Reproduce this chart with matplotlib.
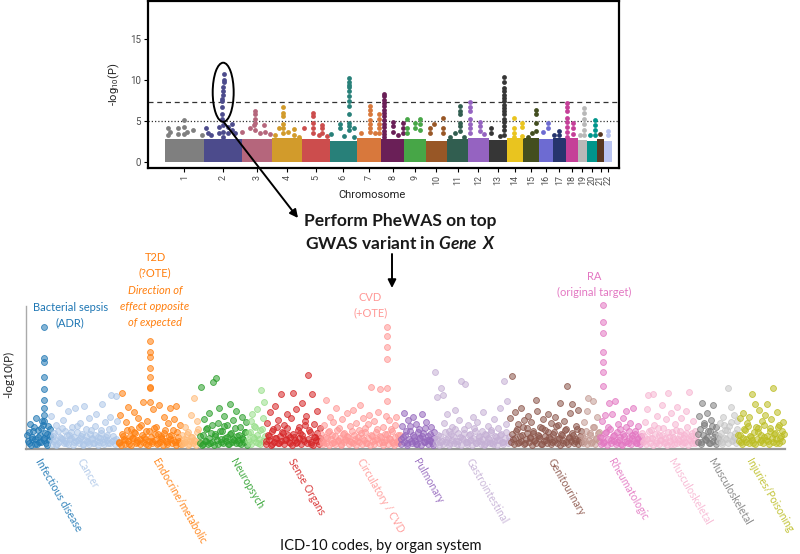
import numpy as np
import matplotlib.pyplot as plt
from matplotlib.patches import Ellipse, FancyArrowPatch
from matplotlib.colors import to_rgba

plt.rcParams['font.family'] = ['Lato', 'DejaVu Sans']
plt.rcParams['mathtext.fontset'] = 'custom'
plt.rcParams['mathtext.rm'] = 'Roboto'
plt.rcParams['mathtext.bfit'] = 'Lato:italic:bold'

# ───────────────────────── GWAS (Manhattan) data ─────────────────────────
chroms      = [str(i) for i in range(1, 23)]
chrom_len   = [249, 243, 198, 191, 181, 171, 159, 146, 141, 136, 135,
               134, 115, 107, 102, 90, 81, 78, 59, 63, 48, 51]          # Mb
chrom_floor = [2.8, 2.8, 2.8, 2.9, 2.8, 2.6, 2.9, 2.8, 2.8, 2.6, 2.8,
               2.9, 2.7, 2.9, 2.9, 2.8, 2.9, 2.9, 2.7, 2.6, 2.8, 2.6]    # dense sub-threshold SNPs
chrom_colors = ['#7f7f7f', '#4c4b8c', '#b5667c', '#d29b2b', '#cc4d4d', '#288079',
                '#d8783c', '#6a1f57', '#47a647', '#985726', '#315e50', '#9563c1',
                '#363636', '#e9c41f', '#434e1f', '#6d6bd2', '#26346e', '#c53f98',
                '#b8b8b8', '#00958b', '#583822', '#b9c4f1']
gwas_line, sugg_line = 7.3, 5.0

# SNPs above the dense block, position within chromosome (Mb) and -log10(P)
hit_pos = [
    [21, 21, 32, 86, 86, 119, 119, 119, 144, 182, 236],
    [15, 24, 48, 95, 101, 131, 127, 131, 123, 123, 123, 120, 120, 120, 120, 120, 123, 123, 123,
     155, 155, 180, 180, 202],
    [2, 55, 81, 88, 88, 88, 88, 88, 116, 146, 152, 184],
    [18, 40, 72, 72, 72, 72, 72, 72, 104, 137, 137, 169],
    [10, 68, 68, 68, 68, 68, 107, 128, 128, 128, 160],
    [3, 61, 61, 87, 119, 119, 119, 119, 119, 119, 119, 119, 119, 119, 119, 119, 151, 155],
    [29, 83, 83, 83, 83, 83, 83, 83, 115, 145, 145, 145, 145, 145],
    [20, 20, 20, 20, 20, 20, 20, 20, 20, 20, 20, 20, 20, 20, 78, 78, 78, 106, 138, 138, 138],
    [18, 18, 18, 72, 72, 100, 104, 104],
    [28, 28, 50, 110, 110, 110],
    [16, 48, 81, 81, 81, 81, 81, 81, 111],
    [14, 14, 14, 14, 14, 14, 14, 75, 75, 75, 100],
    [13, 13, 69, 99, 99, 99, 99, 99, 99, 99, 99, 99, 99, 99, 99, 99, 99, 99, 99],
    [49, 49, 49, 49, 100, 100, 100],
    [27, 55, 81, 81, 81, 81],
    [24, 54, 54],
    [8, 40, 40],
    [6, 6, 6, 6, 6, 6, 6, 6, 46, 46, 46],
    [11, 41, 41, 41, 41, 41, 41],
    [21, 49, 49, 49, 49],
    [18],
    [22, 22],
]
hit_logp = [
    [4.2, 3.3, 3.7, 4.2, 3.4, 5.1, 4.3, 3.4, 3.7, 3.9, 3.3],
    [4.2, 3.5, 3.3, 4.3, 3.5, 10.7, 10.0, 9.7, 9.1, 8.6, 8.2, 7.7, 7.4, 6.7, 5.8, 5.2, 4.5, 3.7, 3.1,
     4.3, 3.6, 4.7, 3.9, 3.5],
    [3.7, 4.2, 4.5, 6.2, 5.8, 5.3, 4.8, 3.9, 3.5, 4.5, 3.7, 3.4],
    [3.3, 4.1, 6.7, 6.0, 5.6, 4.7, 4.1, 3.5, 3.7, 4.0, 3.3, 3.1],
    [4.2, 6.0, 5.6, 4.8, 4.1, 3.6, 3.3, 4.5, 4.1, 3.6, 3.2],
    [3.4, 4.7, 4.1, 3.2, 10.2, 9.8, 9.4, 9.1, 8.7, 8.0, 7.4, 6.8, 5.8, 4.8, 4.4, 3.9, 4.1, 3.1],
    [3.5, 6.8, 6.4, 5.8, 5.1, 4.7, 4.1, 3.7, 3.5, 5.8, 5.3, 4.7, 4.1, 3.6],
    [8.3, 8.0, 7.6, 7.2, 6.8, 6.4, 6.0, 5.6, 5.1, 4.7, 4.3, 3.8, 3.4, 3.0, 4.9, 4.4, 3.7, 3.3,
     4.8, 4.1, 3.6],
    [5.3, 4.1, 3.6, 4.8, 4.1, 5.2, 4.7, 3.9],
    [4.1, 3.5, 4.7, 5.4, 4.1, 3.6],
    [3.1, 3.6, 6.8, 6.2, 5.8, 4.8, 4.4, 3.8, 3.0],
    [7.3, 6.7, 6.2, 5.3, 4.7, 4.1, 3.5, 4.9, 4.4, 3.8, 3.4],
    [4.1, 3.5, 3.2, 10.4, 9.7, 9.0, 8.6, 8.2, 7.8, 7.4, 7.0, 6.6, 6.2, 5.8, 5.3, 4.9, 4.4, 3.9, 3.3],
    [5.4, 4.1, 3.6, 3.1, 4.8, 4.3, 3.2],
    [3.1, 3.6, 6.3, 5.8, 4.8, 3.8],
    [3.7, 4.8, 4.2],
    [3.3, 3.8, 3.3],
    [7.2, 6.7, 6.2, 5.4, 4.9, 4.3, 3.7, 3.1, 4.8, 4.1, 3.4],
    [3.3, 6.6, 6.0, 5.3, 4.7, 3.9, 3.3],
    [3.3, 5.1, 4.5, 3.9, 3.3],
    [3.4],
    [3.8, 3.3],
]
top_variant = (2, 125, 8.5)          # chromosome, Mb, centre of circled peak

# ───────────────────────────── PheWAS data ────────────────────────────────
cat_labels = ['Infectious disease', 'Cancer', 'Endocrine/metabolic', '', 'Neuropsych', '',
              'Sense Organs', 'Circulatory / CVD', 'Pulmonary', 'Gastrointestinal',
              'Genitourinary', '', 'Rheumatologic', 'Musculoskeletal', 'Musculoskeletal', '',
              'Injuries/Poisoning']
cat_colors = ['#1f77b4', '#aec7e8', '#ff7f0e', '#ffbb78', '#2ca02c', '#98df8a', '#d62728',
              '#ff9896', '#9467bd', '#c5b0d5', '#8c564b', '#c49c94', '#e377c2', '#f7b6d2',
              '#7f7f7f', '#c7c7c7', '#bcbd22']
label_at = [5, 17, 22, None, 20, None, 15, 24, 8, 20, 25, None, 5, 17, 7, None, 5]

# one phenotype per phecode slot
phewas_vals = [
    [1.2, 0.4, 2.3, 0.8, 1.6, 0.3, 2.9, 1.0, 0.5, 1.9, 2.6, 0.7, 1.4, 0.2, 2.1, 1.1],
    [3.1, 0.6, 1.4, 2.2, 0.3, 4.4, 1.0, 0.8, 2.7, 1.6, 0.4, 3.6, 1.2, 0.9, 2.0, 0.5, 3.9, 1.5,
     0.7, 2.4, 1.1, 0.3, 4.1, 1.8, 0.6, 2.9, 1.3, 0.9, 0.4, 2.1, 3.3, 1.0, 0.5, 1.7, 4.3, 0.8,
     2.5, 1.2, 0.4, 3.0, 5.2, 1.9, 0.7, 5.1, 2.6],
    [0.4, 3.2, 5.4, 1.1, 0.7, 2.5, 4.0, 0.3, 1.8, 0.9, 3.5, 1.4, 0.5, 2.9, 0.8, 2.2, 4.5, 1.0,
     0.3, 2.6, 1.6, 6.0, 0.6, 3.8, 1.3, 2.0, 0.4, 4.2, 1.1, 0.8, 3.0, 1.7, 0.5, 2.4, 3.9, 1.2,
     0.7, 2.8, 4.1, 1.5, 0.4, 2.2],
    [1.2, 0.4, 2.0, 0.7, 1.5, 0.3, 3.2, 1.0, 4.9, 0.6, 2.6, 1.8],
    [1.1, 6.0, 0.3, 2.8, 0.6, 1.9, 3.4, 0.4, 2.2, 6.5, 1.3, 6.9, 2.4, 3.9, 0.5, 1.6, 3.1, 0.9,
     2.2, 0.3, 4.3, 1.4, 2.7, 0.7, 3.6, 1.1, 0.4, 2.0, 3.0, 0.8, 1.5, 2.5],
    [1.4, 0.5, 2.6, 3.3, 0.9, 2.0, 3.8, 0.4, 1.7, 5.7, 2.9, 4.5],
    [0.6, 2.4, 1.1, 3.5, 0.3, 1.8, 4.1, 0.9, 2.7, 0.4, 5.3, 1.5, 2.2, 0.7, 3.3, 1.2, 0.4, 2.9,
     5.4, 1.0, 3.8, 0.5, 2.0, 1.4, 4.4, 0.8, 2.6, 3.1, 7.2, 1.7, 0.3, 5.3, 2.3, 1.0, 3.6, 0.6, 1.9],
    [1.3, 0.5, 2.2, 4.7, 0.9, 1.6, 3.0, 0.4, 2.5, 1.1, 3.9, 0.7, 1.9, 0.3, 2.8, 1.4, 0.8, 3.4,
     1.0, 2.1, 0.5, 3.7, 1.2, 2.4, 0.6, 1.7, 4.2, 0.9, 2.9, 1.5, 0.4, 2.3, 3.2, 6.0, 1.1, 2.6,
     0.7, 1.8, 3.5, 5.8, 1.0, 2.0, 0.5, 3.1, 1.3, 2.7, 0.8, 1.6, 0.4, 2.2, 3.0, 1.2, 0.6],
    [0.8, 2.1, 3.4, 1.2, 0.4, 2.7, 1.6, 0.6, 3.0, 1.0, 2.3, 0.3, 1.8, 0.9, 3.3, 1.4, 0.5, 2.5,
     1.1, 0.7, 2.0, 0.4, 1.5],
    [7.5, 5.0, 1.2, 0.5, 5.9, 5.2, 2.4, 0.8, 3.3, 1.6, 0.4, 2.0, 1.1, 3.7, 0.6, 1.4, 2.7, 6.6,
     0.9, 1.8, 6.3, 0.5, 2.2, 1.3, 0.7, 3.0, 1.9, 0.4, 2.5, 1.0, 0.6, 1.6, 3.5, 0.3, 1.2, 2.1,
     0.8, 1.5, 0.4, 2.8, 1.1, 0.7, 1.9, 3.9, 1.3, 0.5, 6.6, 2.3, 4.6, 1.0],
    [2.9, 7.1, 0.8, 3.5, 1.6, 2.3, 0.5, 3.9, 1.2, 2.7, 0.4, 1.9, 3.1, 0.9, 2.5, 1.4, 0.6, 4.7,
     3.6, 1.1, 2.0, 0.3, 2.8, 1.7, 0.7, 3.3, 1.0, 2.4, 0.5, 1.5, 3.0, 0.8, 2.2, 4.4, 1.3, 0.4,
     2.6, 1.8, 6.1, 0.9, 3.4, 4.3, 1.2, 0.6, 2.1, 3.7, 0.7, 1.6],
    [1.1, 2.5, 0.6, 3.6, 4.9, 1.4, 0.4, 4.6, 2.0, 0.9, 3.0, 1.5],
    [1.0, 2.6, 0.4, 3.2, 1.5, 2.0, 4.4, 0.7, 3.3, 1.2, 4.6, 0.5, 2.3, 1.8, 0.3, 2.9, 1.1, 3.6,
     0.6, 1.6, 2.4, 0.9, 3.9, 1.3, 0.4, 2.1, 1.0, 0.6],
    [1.4, 0.6, 2.5, 3.8, 5.2, 0.9, 1.7, 5.3, 2.2, 0.4, 3.1, 1.2, 0.7, 4.2, 1.9, 0.5, 2.8, 5.4,
     1.0, 3.4, 1.5, 0.3, 2.3, 4.0, 0.8, 1.6, 2.9, 0.5, 1.2, 3.6, 2.0, 5.5, 0.7, 1.4, 2.6, 0.4, 1.1],
    [1.3, 3.1, 0.5, 4.4, 2.2, 0.8, 3.4, 1.6, 0.4, 2.7, 4.2, 1.0, 2.0, 0.6],
    [1.1, 2.4, 0.5, 3.0, 1.7, 0.8, 5.9, 2.1, 4.0, 0.6, 3.2, 1.4, 2.6],
    [1.2, 2.9, 0.5, 3.4, 1.8, 0.8, 2.4, 3.0, 1.1, 5.3, 0.4, 4.3, 2.0, 1.5, 3.7, 0.7, 2.6, 1.0,
     3.2, 4.3, 0.6, 1.9, 2.8, 5.9, 1.3, 0.4, 3.5, 2.2, 0.9, 1.6, 2.5],
]

# second phenotype sharing each slot (dense low band)
phewas_low = [
    [0.6, 1.5, 0.2, 1.0, 2.0, 0.8, 0.3, 1.7, 1.2, 0.5, 2.2, 0.9, 0.4, 1.3, 0.7, 1.8],
    [0.3, 1.1, 0.7, 0.2, 1.6, 0.5, 0.9, 1.9, 0.4, 0.6, 1.2, 0.3, 0.8, 1.5, 0.2, 1.0, 0.6, 2.1,
     0.4, 0.9, 1.3, 0.2, 0.7, 1.1, 0.5, 0.3, 1.7, 0.8, 0.4, 1.2, 0.6, 0.2, 0.9, 1.4, 0.5, 0.3,
     1.0, 0.7, 1.8, 0.4, 0.6, 1.1, 0.3, 0.8, 0.5],
    [0.5, 0.2, 1.3, 0.8, 0.3, 1.7, 0.6, 1.1, 0.2, 0.9, 1.5, 0.4, 0.7, 2.0, 0.3, 1.2, 0.5, 0.8,
     1.6, 0.2, 0.6, 1.0, 0.4, 1.9, 0.7, 0.3, 1.3, 0.5, 0.9, 0.2, 1.4, 0.6, 0.3, 1.1, 0.8, 0.4,
     1.7, 0.5, 0.2, 1.0, 0.6, 0.3],
    [0.3, 0.8, 0.5, 1.3, 0.2, 0.6, 1.0, 0.4, 0.7, 0.2, 1.5, 0.5],
    [0.4, 0.2, 1.2, 0.6, 1.8, 0.3, 0.9, 1.4, 0.5, 0.2, 1.1, 0.7, 0.3, 1.6, 0.8, 0.4, 2.1, 0.6,
     1.0, 0.3, 1.3, 0.5, 0.8, 1.9, 0.4, 0.7, 1.2, 0.3, 0.9, 0.5, 1.5, 0.2],
    [0.7, 1.5, 0.3, 1.0, 2.1, 0.5, 1.2, 0.8, 0.3, 1.8, 0.6, 1.1],
    [0.3, 1.2, 0.7, 0.2, 1.6, 0.5, 0.9, 2.0, 0.4, 1.1, 0.6, 1.4, 0.3, 0.8, 1.9, 0.5, 1.0, 0.2,
     1.3, 0.7, 0.4, 1.7, 0.9, 0.3, 1.2, 0.6, 2.2, 0.4, 0.8, 1.5, 0.5, 0.2, 1.0, 0.7, 1.4, 0.3, 0.9],
    [0.6, 0.3, 1.0, 0.4, 1.5, 0.2, 0.8, 1.2, 0.5, 0.3, 1.7, 0.6, 0.9, 0.2, 1.3, 0.5, 0.7, 1.1,
     0.3, 0.6, 1.6, 0.4, 0.8, 0.2, 1.0, 0.5, 1.4, 0.3, 0.7, 1.9, 0.4, 0.9, 0.2, 1.2, 0.6, 0.3,
     1.5, 0.8, 0.4, 1.1, 0.5, 0.2, 1.3, 0.7, 0.3, 0.9, 1.8, 0.5, 0.2, 1.0, 0.6, 0.4, 1.2],
    [0.3, 1.0, 0.5, 1.6, 0.2, 0.8, 2.1, 0.4, 1.2, 0.6, 0.3, 1.5, 0.9, 0.2, 1.1, 0.5, 1.9, 0.7,
     0.3, 1.3, 0.6, 0.2, 0.9],
    [0.4, 0.8, 0.2, 1.1, 0.6, 0.3, 1.5, 0.5, 0.9, 0.2, 1.3, 0.7, 0.4, 1.8, 0.3, 0.6, 1.0, 0.2,
     0.8, 1.4, 0.5, 0.3, 1.2, 0.7, 0.2, 0.9, 1.6, 0.4, 0.6, 1.1, 0.3, 0.8, 0.2, 1.3, 0.5, 0.9,
     0.4, 1.7, 0.3, 0.6, 1.0, 0.2, 0.7, 1.2, 0.5, 0.3, 0.9, 1.5, 0.4, 0.6],
    [0.5, 1.3, 0.3, 0.9, 1.8, 0.4, 1.1, 0.6, 2.0, 0.3, 0.8, 1.4, 0.5, 1.0, 0.2, 1.6, 0.7, 0.4,
     1.2, 0.9, 0.3, 1.9, 0.6, 1.1, 0.4, 1.5, 0.8, 0.3, 1.3, 0.6, 2.1, 0.4, 0.9, 0.2, 1.2, 0.7,
     1.7, 0.5, 0.3, 1.0, 0.6, 1.4, 0.4, 0.8, 1.8, 0.3, 1.1, 0.5],
    [0.4, 0.9, 1.6, 0.3, 0.7, 1.2, 0.5, 2.0, 0.3, 0.8, 1.4, 0.6],
    [0.3, 0.9, 0.5, 1.4, 0.2, 0.8, 1.8, 0.4, 1.1, 0.6, 0.3, 1.5, 0.7, 1.0, 0.2, 1.3, 0.5, 2.0,
     0.4, 0.9, 0.3, 1.2, 0.6, 1.6, 0.4, 0.8, 0.3, 1.1],
    [0.5, 1.1, 0.3, 0.8, 1.6, 0.4, 0.9, 0.2, 1.3, 0.6, 1.9, 0.3, 0.7, 1.2, 0.4, 0.9, 0.2, 1.5,
     0.6, 0.3, 1.0, 0.8, 1.7, 0.4, 0.6, 1.2, 0.3, 0.9, 0.5, 1.4, 0.2, 0.8, 1.1, 0.4, 0.7, 1.6, 0.5],
    [0.5, 1.8, 0.3, 1.2, 2.4, 0.7, 1.0, 0.4, 1.6, 2.1, 0.6, 1.3, 0.3, 0.9],
    [0.6, 1.4, 0.3, 2.2, 0.9, 1.7, 0.4, 1.2, 2.5, 0.7, 1.0, 0.4, 1.8],
    [0.6, 1.2, 0.3, 0.9, 1.7, 0.5, 2.1, 0.4, 1.0, 0.7, 1.5, 0.3, 0.8, 1.9, 0.5, 1.2, 0.4, 2.2,
     0.7, 1.1, 0.3, 1.6, 0.9, 0.5, 1.4, 0.8, 2.0, 0.4, 1.1, 0.6, 1.3],
]

# associated phenotypes (stacked hits at one phecode)
peak_cat  = [0, 2, 7, 12]             # group index
peak_at   = [11, 21, 44, 2]           # phecode offset inside group
peak_vals = [
    [12.0, 8.9, 8.5, 7.0, 5.8, 4.7, 3.9, 3.2, 2.6],      # bacterial sepsis
    [10.6, 9.5, 9.0, 7.9, 7.0, 5.9, 4.5],                # T2D
    [12.0, 11.1, 10.0, 8.8, 5.9, 4.6],                   # CVD
    [14.2, 12.5, 11.4, 9.5, 8.5, 7.5, 6.1],              # RA
]

# ───────────────────────────────── figure ─────────────────────────────────
fig = plt.figure(figsize=(8, 5.54), dpi=100)

# ── top: Manhattan plot ──
ax1 = fig.add_axes([0.185, 0.697, 0.589, 0.301])
starts = np.concatenate([[0], np.cumsum(chrom_len)[:-1]])
ax1.bar(starts, chrom_floor, width=chrom_len, align='edge',
        color=chrom_colors, linewidth=0, zorder=2)
for i in range(len(chroms)):
    ax1.scatter(starts[i] + np.array(hit_pos[i]), hit_logp[i], s=12,
                color=chrom_colors[i], linewidths=0, zorder=3)
ax1.axhline(gwas_line, color='#333333', lw=0.9, ls=(0, (4, 3)), zorder=1)
ax1.axhline(sugg_line, color='#333333', lw=0.9, ls=(0, (1, 1.6)), zorder=1)

c, mb, y0 = top_variant
ax1.add_patch(Ellipse((starts[c - 1] + mb, y0), width=135, height=7.2,
                      fill=False, ec='black', lw=1.4, zorder=4))

ax1.set_xlim(-110, sum(chrom_len) + 45)
ax1.set_ylim(-0.7, 19.6)
ax1.set_yticks([0, 5, 10, 15])
ax1.set_xticks(starts + np.array(chrom_len) / 2)
ax1.set_xticklabels(chroms, rotation=90, fontsize=6.5, color='#4d4d4d', family='Roboto')
for t in ax1.get_yticklabels():
    t.set_fontsize(7); t.set_color('#4d4d4d'); t.set_family('Roboto')
ax1.tick_params(length=3, width=0.8, pad=2)
for s in ax1.spines.values():
    s.set_linewidth(1.6)
ax1.set_ylabel(r'-log$_{10}$(P)', fontsize=8, family='Roboto', color='#222222', labelpad=6)
ax1.set_xlabel('Chromosome', fontsize=8, family='Roboto', color='#222222')
ax1.xaxis.set_label_coords(0.476, -0.135)

# ── bottom: PheWAS plot ──
ax2 = fig.add_axes([0.0325, 0.1895, 0.949, 0.258])
dot = dict(s=18, linewidths=0.6, clip_on=False, zorder=3)
start = 0
cat_start = []
for vals, low, col in zip(phewas_vals, phewas_low, cat_colors):
    cat_start.append(start)
    fc, ec = to_rgba(col, 0.55), to_rgba(col, 0.85)
    ax2.scatter(start + 0.5 + np.arange(len(low)), low, facecolor=fc, edgecolor=ec, **dot)
    ax2.scatter(start + np.arange(len(vals)), vals, facecolor=fc, edgecolor=ec, **dot)
    start += len(vals)

for g, off, vals in zip(peak_cat, peak_at, peak_vals):
    col = cat_colors[g]
    ax2.scatter(np.full(len(vals), cat_start[g] + off), vals,
                facecolor=to_rgba(col, 0.55), edgecolor=to_rgba(col, 0.85), **dot)

ax2.set_xlim(-0.7, start + 0.3)
ax2.set_ylim(-0.2, 14.1)
ax2.set_xticks([]); ax2.set_yticks([])
for side in ['top', 'right']:
    ax2.spines[side].set_visible(False)
ax2.spines['left'].set_color('#aaaaaa'); ax2.spines['left'].set_linewidth(1.0)
ax2.spines['bottom'].set_color('#999999'); ax2.spines['bottom'].set_linewidth(1.6)
ax2.set_ylabel('-log10(P)', fontsize=8.5, color='#222222')
ax2.yaxis.set_label_coords(-0.016, 0.52)

xt = ax2.get_xaxis_transform()
for lab, off, col, s0 in zip(cat_labels, label_at, cat_colors, cat_start):
    if not lab:
        continue
    ax2.text(s0 + off, -0.085, lab, transform=xt, rotation=-60, rotation_mode='anchor',
             ha='left', va='baseline', fontsize=7.6, color=to_rgba(col, 0.9))

# annotations of hits
txt = dict(ha='center', va='center', fontsize=8, linespacing=1.55, clip_on=False)
ax2.text(28.7, 13.2, 'Bacterial sepsis\n(ADR)', color='#1f77b4', **txt)
ax2.text(85.3, 18.2, 'T2D\n(?OTE)', color='#ff7f0e', **txt)
ax2.text(85.3, 14.1, 'Direction of\neffect opposite\nof expected', color='#ff7f0e',
         style='italic', **txt)
ax2.text(228.7, 14.2, 'CVD\n(+OTE)', color='#ff9896', **txt)
ax2.text(378, 16.3, 'RA\n(original target)', color='#e377c2', **txt)

fig.text(0.476, 0.0145, 'ICD-10 codes, by organ system', ha='center', va='center',
         fontsize=10.5, color='#111111')

# ── linking text and arrows ──
fig.text(0.5, 0.601, 'Perform PheWAS on top', ha='center', va='center',
         fontsize=12.5, fontweight='bold', color='#1a1a1a')
fig.text(0.5, 0.561, r'GWAS variant in $\mathbfit{Gene\ X}$', ha='center', va='center',
         fontsize=12.5, fontweight='bold', color='#1a1a1a')

ax1.annotate('', xy=(0.3725, 0.6065), xycoords='figure fraction',
             xytext=(starts[c - 1] + mb + 3, y0 - 3.6), textcoords='data',
             arrowprops=dict(arrowstyle='-|>', color='black', lw=1.4, mutation_scale=12,
                             shrinkA=0, shrinkB=0),
             annotation_clip=False)
fig.add_artist(FancyArrowPatch((0.49, 0.5415), (0.49, 0.4801), transform=fig.transFigure,
                               arrowstyle='-|>', color='black', lw=1.4, mutation_scale=12,
                               shrinkA=0, shrinkB=0))

fig.savefig('out.png', dpi=100)
